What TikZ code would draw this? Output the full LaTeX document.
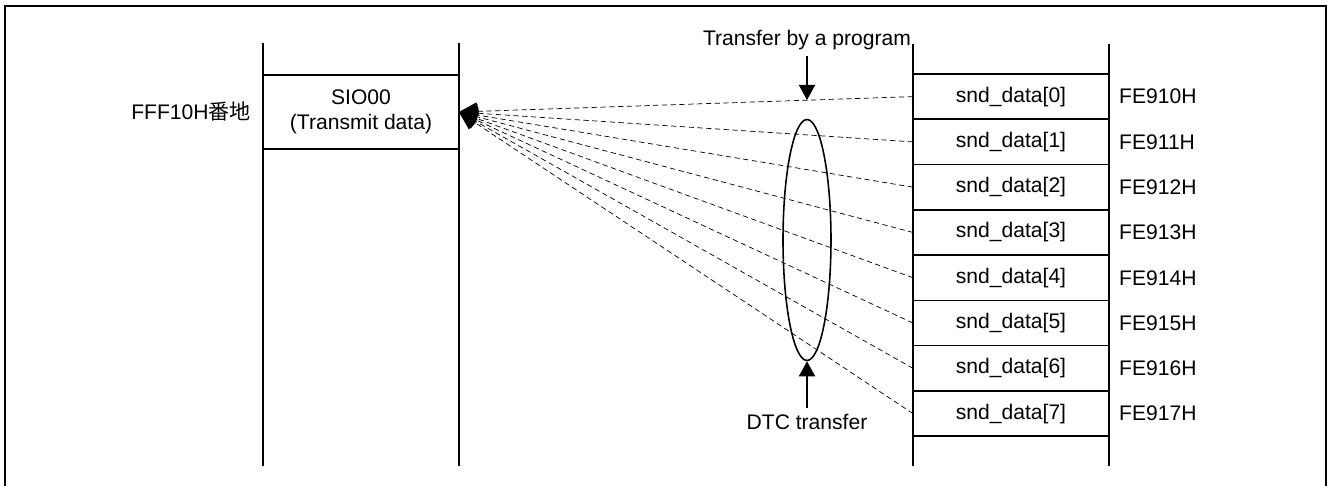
\documentclass[tikz,border=0pt]{standalone}
\usepackage{fontspec}
\setmainfont{Liberation Sans}
\newfontfamily\jpfont{Noto Sans CJK JP}
\usepackage{tikz}
\usetikzlibrary{positioning,arrows.meta,shapes.geometric}

\tikzset{
    cell/.style={draw, line width=0.9pt, minimum width=3.92cm, minimum height=0.906cm,
        inner sep=0pt, outer sep=0pt, align=center},
    rail/.style={line width=0.9pt},
    feed/.style={densely dashed, line width=0.4pt, -{Triangle[length=0.36cm, width=0.36cm]}},
    pointer/.style={line width=0.9pt, -{Triangle[length=0.3cm, width=0.32cm]}}
}

\begin{document}
\begin{tikzpicture}[x=0.02cm, y=-0.02cm, font=\fontsize{12}{14}\selectfont]
        \useasboundingbox (0,0) rectangle (1330,486);

        % Frame
        \draw[line width=1.2pt] (5,500) -- (5,6) -- (1326,6) -- (1326,500);

        % Left column
        \node[cell, minimum height=1.48cm] (sio) at (361,112) {SIO00\\(Transmit data)};
        \draw[rail] ([yshift=0.64cm]sio.north west) -- ([yshift=-6.34cm]sio.south west);
        \draw[rail] ([yshift=0.64cm]sio.north east) -- ([yshift=-6.34cm]sio.south east);
        \node[left=0.12cm of sio.west] (sioaddr) {FFF10H{\jpfont 番地}};

        % Right column
        \node[cell] (d0) at (1011,96.6) {snd\_data[0]};
        \foreach \i [count=\j from 0] in {1,...,7}
            \node[cell, below=0pt of d\j] (d\i) {snd\_data[\i]};
        \foreach \i in {0,...,7}
            \node[right=0.08cm of d\i.east] (a\i) {FE91\i H};
        \draw[rail] ([yshift=0.6cm]d0.north west) -- ([yshift=-0.6cm]d7.south west);
        \draw[rail] ([yshift=0.6cm]d0.north east) -- ([yshift=-0.6cm]d7.south east);

        % Transfers
        \foreach \i in {0,...,7}
            \draw[feed] (d\i.west) -- (sio.east);

        % DTC group
        \node[ellipse, draw, line width=0.9pt, minimum width=0.96cm, minimum height=4.82cm,
            inner sep=0pt] (dtc) at (807,240) {};

        % Labels
        \node (prog) at (807,40) {Transfer by a program};
        \coordinate (hit) at (807,100);
        \draw[pointer] (prog.south) -- (hit);
        \node (dtclabel) at (807,422) {DTC transfer};
        \draw[pointer] (dtclabel.north) -- (dtc.south);

\end{tikzpicture}
\end{document}
